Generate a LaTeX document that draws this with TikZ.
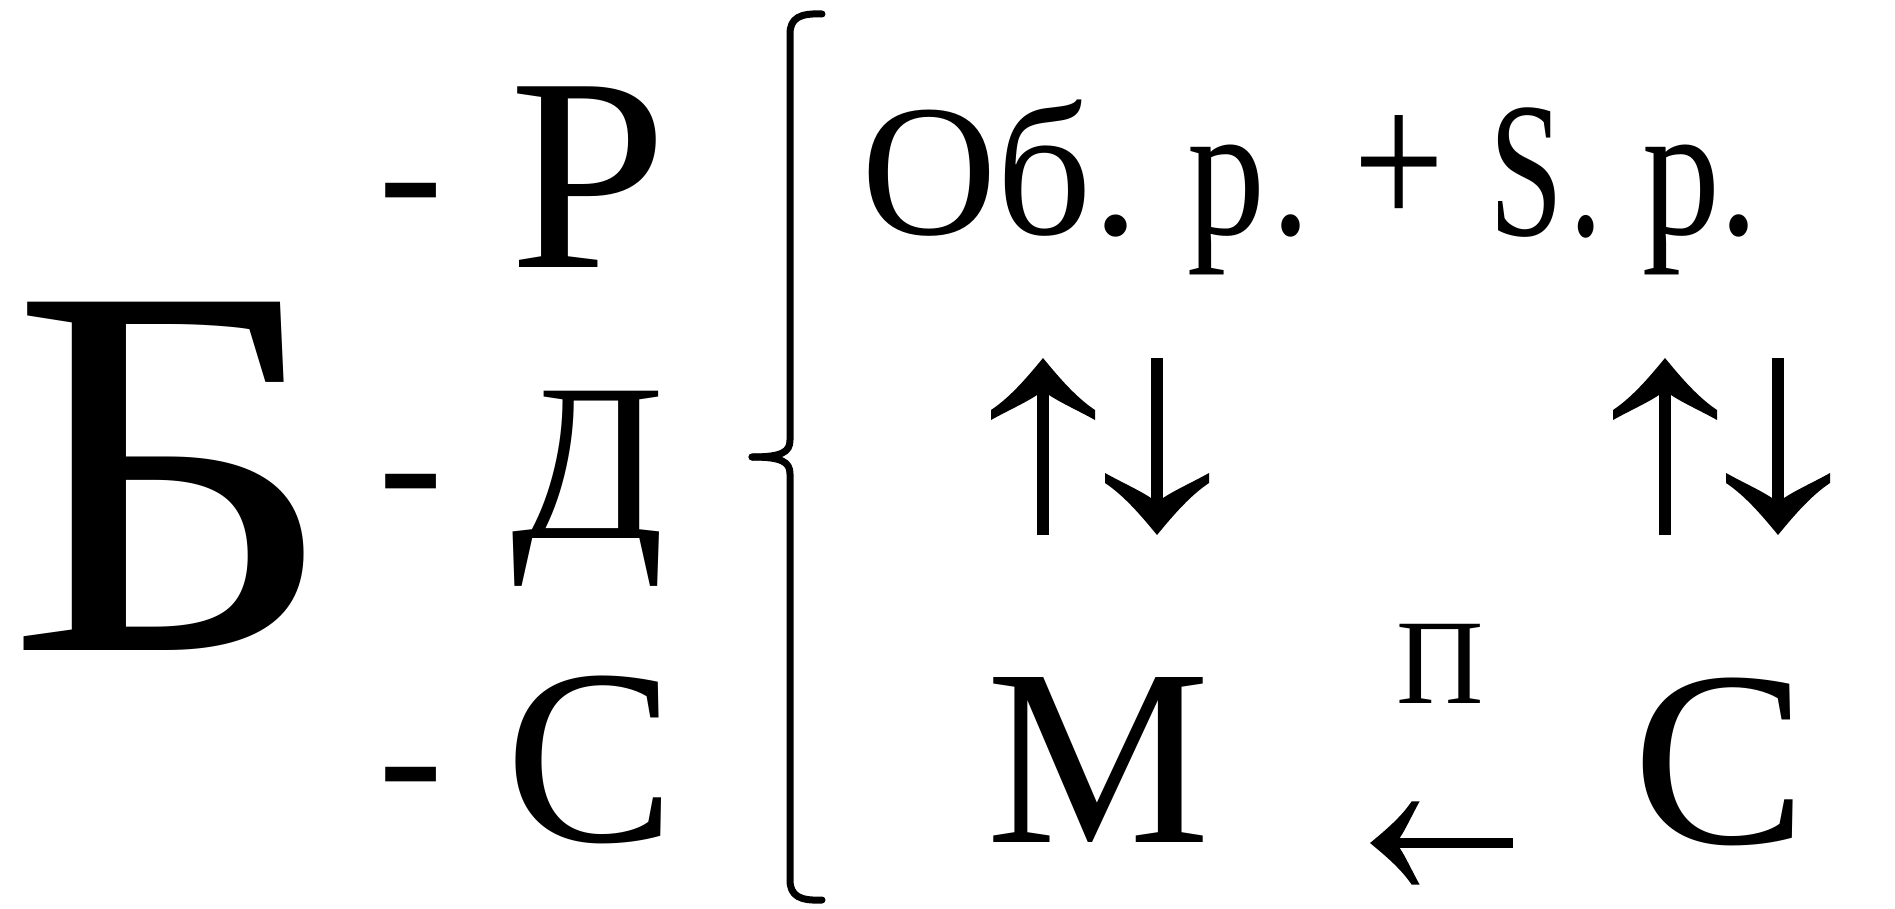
\documentclass[tikz,border=0pt]{standalone}
\usepackage{fontspec}
\IfFontExistsTF{LiberationSerif-Regular.ttf}{\setmainfont{LiberationSerif-Regular.ttf}}{\setmainfont{Liberation Serif}}
\begin{document}
\begin{tikzpicture}[x=1pt,y=-1pt,
  txt/.style={anchor=base west,inner sep=0pt,outer sep=0pt},
  fs/.style={font=\fontsize{#1}{#1}\selectfont},
  shaft/.style={line width=#1,line cap=butt},
  brk/.style={line width=7pt,line cap=round,line join=round},
  tnrhead/.pic={\fill (0,0) .. controls (-18,22) and (-34,40) .. (-52,52) -- (-52,62)
     .. controls (-36,53) and (-18,45) .. (-6,37) -- (6,37)
     .. controls (18,45) and (36,53) .. (52,62) -- (52,52)
     .. controls (34,40) and (18,22) .. (0,0) -- cycle;}
]
\useasboundingbox (0,0) rectangle (1895,908);
% left column
\node[txt,fs=532,xscale=1.08] (B) at (7,650) {Б};
\node[txt,fs=195] (d1) at (378,236) {-};
\node[txt,fs=195] (d2) at (378,527) {-};
\node[txt,fs=195] (d3) at (378,820) {-};
\node[txt,fs=276,xscale=1.03] (R) at (509,267) {Р};
\node[txt,fs=225] (D) at (511,538) {Д};
\node[txt,fs=250,xscale=1.02] (Cl) at (505,841.5) {С};
% bracket
\coordinate (bt) at (822,14);
\coordinate (bc) at (752,457);
\coordinate (bb) at (822,900);
\draw[brk] (bt) .. controls (800,13) and (790,18) .. (790,34) -- (790,440)
  .. controls (790,452) and (782,457) .. (bc);
\draw[brk] (bc) .. controls (782,457) and (790,462) .. (790,474) -- (790,880)
  .. controls (790,896) and (800,901) .. (bb);
% row 1
\node[txt,fs=188] (Ob) at (861,234) {Об.};
\node[txt,fs=190,xscale=0.82] (r1) at (1187,234) {р\kern8pt.};
\node[fs=200,xscale=0.81,inner sep=0pt] (plus) at (1399,172.5) {+};
\node[txt,fs=193,xscale=0.69] (S) at (1489,235) {S\kern10pt.};
\node[txt,fs=190,xscale=0.82] (r2) at (1642,234) {р.};
% row 3
\node[txt,fs=252] (M) at (986,842) {М};
\node[txt,fs=121] (P) at (1396,703) {П};
\node[txt,fs=250,xscale=1.05] (Cr) at (1632,843.5) {С};
% arrows
\coordinate (a1t) at (1043,358); \coordinate (a1s) at (1043,390); \coordinate (a1b) at (1043,535);
\draw[shaft=12pt] (a1b) -- (a1s); \pic at (a1t) {tnrhead};
\coordinate (a2t) at (1157,358); \coordinate (a2s) at (1157,503); \coordinate (a2b) at (1157,535);
\draw[shaft=12pt] (a2t) -- (a2s); \pic[rotate=180] at (a2b) {tnrhead};
\coordinate (a3t) at (1665,358); \coordinate (a3s) at (1665,390); \coordinate (a3b) at (1665,535);
\draw[shaft=12pt] (a3b) -- (a3s); \pic at (a3t) {tnrhead};
\coordinate (a4t) at (1778,358); \coordinate (a4s) at (1778,503); \coordinate (a4b) at (1778,535);
\draw[shaft=12pt] (a4t) -- (a4s); \pic[rotate=180] at (a4b) {tnrhead};
\coordinate (lt) at (1370,843); \coordinate (ls) at (1394,843); \coordinate (lr) at (1513,843);
\draw[shaft=10pt] (lr) -- (ls); \pic[rotate=90,scale=0.8] at (lt) {tnrhead};
\end{tikzpicture}
\end{document}
